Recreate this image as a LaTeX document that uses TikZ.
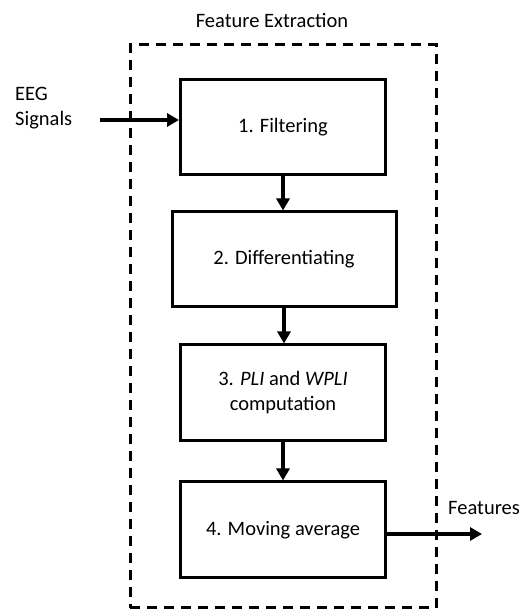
\documentclass[tikz,border=0pt]{standalone}
\usepackage{fontspec}
\setmainfont{Carlito}
\usetikzlibrary{arrows.meta}
\begin{document}
\begin{tikzpicture}[x=1pt,y=1pt,
  font=\fontsize{20.5}{25}\selectfont,
  stepbox/.style={draw,line width=3pt,minimum height=95pt,inner sep=0pt,align=center},
  flow/.style={line width=4pt,-{Triangle[length=12pt,width=13pt]}},
  frame/.style={draw,line width=3pt,dash pattern=on 10pt off 7pt,minimum width=306pt,minimum height=563pt,inner sep=0pt}]
\useasboundingbox (0,0) rectangle (527,610);
\node[frame] (fr) at (283,283.5) {};
\node (title) at (272,590) {Feature Extraction};
\node[stepbox,minimum width=205pt] (b1) at (283,483) {1. Filtering};
\node[stepbox,minimum width=224pt] (b2) at (284,350.5) {2. Differentiating};
\node[stepbox,minimum width=205pt,minimum height=96pt] (b3) at (283,217) {3. \textit{PLI} and \textit{WPLI}\\computation};
\node[stepbox,minimum width=205pt,minimum height=96pt] (b4) at (283,80) {4. Moving average};
\node[anchor=west,align=left,inner sep=0pt] (eeg) at (15,502) {EEG\\Signals};
\node[anchor=west,inner sep=0pt] (feat) at (448,102) {Features};
\coordinate (ein) at (100,490);
\coordinate (fout) at (482,76);
\draw[flow] (ein) -- (ein -| b1.west);
\draw[flow] (b1.south) -- (b1.south |- b2.north);
\draw[flow] (b2.south) -- (b2.south |- b3.north);
\draw[flow] (b3.south) -- (b4.north);
\draw[flow] (fout -| b4.east) -- (fout);
\end{tikzpicture}
\end{document}
